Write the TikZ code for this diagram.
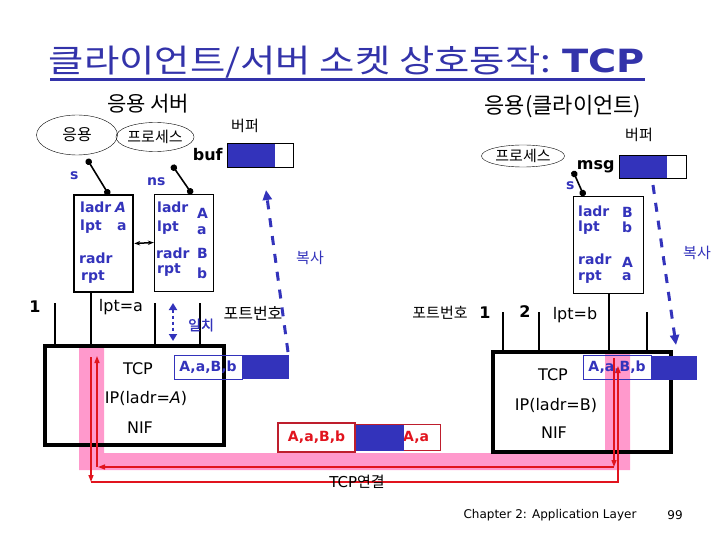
\documentclass[tikz,border=0pt]{standalone}
\usepackage{fontspec}
\setmainfont{DejaVu Sans}
\newfontfamily\kor[AutoFakeBold=1.5]{Noto Sans CJK KR}
\usepackage{tikz}
\usetikzlibrary{arrows.meta,positioning,shapes.geometric}
\usepackage{xcolor}
\definecolor{sblue}{RGB}{51,51,187}
\definecolor{tblue}{RGB}{51,51,170}
\definecolor{lpink}{RGB}{255,153,204}
\definecolor{pred}{RGB}{225,20,30}
\definecolor{dred}{RGB}{190,30,45}
\newcommand{\fs}[1]{\fontsize{#1}{#1}\selectfont}

\begin{document}
\begin{tikzpicture}[x=1pt, y=-1pt,
		ko/.style={font=\kor\fs{15}, inner sep=0},
		lbl/.style={text=sblue, font=\bfseries\fs{14}, inner sep=0, anchor=west},
		txt/.style={font=\fs{16}, inner sep=0},
		proc/.style={draw, ellipse, inner sep=0, font=\kor\fs{15}},
		sock/.style={draw, rectangle, inner sep=0, minimum width=59pt, minimum height=97pt},
		stack/.style={draw, rectangle, line width=3.5pt, inner sep=0},
		pkt/.style={draw=sblue, text=sblue, font=\bfseries\fs{14}, inner sep=0, minimum width=68pt, minimum height=24pt},
		pay/.style={fill=sblue, inner sep=0, minimum height=24pt, anchor=west},
		bufbox/.style={draw, inner sep=0, minimum width=66pt, minimum height=24pt},
		sline/.style={line width=1.6pt, {Circle[length=6.5pt]}-{Circle[length=6.5pt]}},
		copy/.style={sblue, line width=3pt, dash pattern=on 9pt off 9pt, -{Triangle[length=10pt,width=9pt]}},
		pipe/.style={pred, line width=1.3pt, -{Triangle[length=7pt,width=5pt]}},
		port/.style={line width=1.5pt}]
	\useasboundingbox (0,0) rectangle (720,540);
	
	% TCP connection band
	\fill[lpink] (79,346) -- (104,346) -- (104,453) -- (605,453) -- (605,350) -- (630,350) -- (630,470) -- (79,470) -- cycle;
	
	\node[font=\kor\fs{32}, text=tblue, inner sep=0] (ttl) at (347,62) {\scalebox{1.2}[1]{클라이언트/서버 소켓 상호동작: {\rmfamily\bfseries TCP}}};
	\draw[tblue, line width=3pt] (50,80) -- (645,80);
	
	% server side
	\node[ko, font=\kor\fs{21}] (srv) at (148,104) {응용 서버};
	\node[proc, minimum width=81pt, minimum height=40pt, font=\kor\fs{16}] (sapp) at (77,135) {응용};
	\node[proc, minimum width=76pt, minimum height=29pt] (sproc) at (155,137) {프로세스};
	\node[bufbox] (sbuf) at (260,155) {};
	\fill[sblue] (sbuf.north west) rectangle ([xshift=-18pt]sbuf.south east);
	\draw (sbuf.north west) rectangle (sbuf.south east);
	\node[ko, above=10pt of sbuf, xshift=-15pt] (sbufl) {버퍼};
	\node[font=\bfseries\fs{16}, inner sep=0, left=4pt of sbuf] (sbufn) {buf};
	
	\node[sock, line width=2.5pt] (ssk) at (103.5,243.5) {};
	\node[sock] (nsk) at (183.5,242.5) {};
	\coordinate (sp1) at (87,159);
	\coordinate (sp2) at (109,195);
	\coordinate (np1) at (172,165);
	\coordinate (np2) at (192,194);
	\draw[sline] (sp1) -- (sp2);
	\draw[sline] (np1) -- (np2);
	\node[lbl] (sl) at (70,176) {s};
	\node[lbl] (nsl) at (147,182) {ns};
	
	\node[lbl] at (80,207) {ladr};
	\node[lbl] at (115,207) {\itshape A};
	\node[lbl] at (80,227) {lpt};
	\node[lbl] at (117,227) {a};
	\node[lbl] at (79,258) {radr};
	\node[lbl] at (81,277) {rpt};
	
	\node[lbl] at (157,207) {ladr};
	\node[lbl] at (197,213) {A};
	\node[lbl] at (157,228) {lpt};
	\node[lbl] at (197,231) {a};
	\node[lbl] at (156,253) {radr};
	\node[lbl] at (197,253) {B};
	\node[lbl] at (157,270) {rpt};
	\node[lbl] at (197,273) {b};
	
	\draw[{Stealth[length=6pt]}-{Stealth[length=6pt]}, line width=1.5pt] (ssk.east) -- (nsk.west);
	
	\node[stack, minimum width=179pt, minimum height=99pt] (stk) at (134.5,395.5) {};
	\node[txt] (stcp) at (138,369) {TCP};
	\node[txt] (sip) at (146,398) {IP(ladr=\textit{A})};
	\node[txt] (snif) at (140,428) {NIF};
	\node[pkt] (spk) at (208,367) {A,a,B,b};
	\node[pay, minimum width=47pt] (spay) at (spk.east) {};
	
	\node[txt, font=\bfseries\fs{16}] (sone) at (35,307) {1};
	\node[txt] (lpta) at (121,307) {lpt=a};
	\foreach \x in {55,155,200}
		\draw[port] (\x,303) -- (\x,346);
	\draw[line width=2pt] (91,292) -- (91,346);
	
	\coordinate (m1) at (173,303);
	\coordinate (m2) at (173,341);
	\draw[sblue, line width=2.5pt, dash pattern=on 3pt off 3pt, {Triangle[length=7pt,width=8pt]}-{Triangle[length=7pt,width=8pt]}] (m1) -- (m2);
	\node[ko, text=sblue, font=\kor\bfseries\fs{14}] (match) at (201,325) {일치};
	\node[ko, font=\kor\fs{16}] (sportl) at (253,313) {포트번호};
	
	\coordinate (sc1) at (288,352);
	\coordinate (sc2) at (266,190);
	\draw[copy] (sc1) -- (sc2);
	\node[ko, text=sblue] (scopy) at (310,258) {복사};
	
	% client side
	\node[ko, font=\kor\fs{22}] (cli) at (563,107) {응용(클라이언트)};
	\node[ko] (cbufl) at (639,135) {버퍼};
	\node[proc, minimum width=83pt, minimum height=22pt] (cproc) at (523,156) {프로세스};
	\node[bufbox, minimum width=67pt, minimum height=23pt] (cbuf) at (652.5,166.5) {};
	\fill[sblue] (cbuf.north west) rectangle ([xshift=-19pt]cbuf.south east);
	\draw (cbuf.north west) rectangle (cbuf.south east);
	\node[font=\bfseries\fs{16}, inner sep=0, left=4pt of cbuf] (cbufn) {msg};
	
	\node[sock, minimum width=70pt] (csk) at (608,244.5) {};
	\coordinate (cp1) at (573,171);
	\coordinate (cp2) at (584,196);
	\draw[sline] (cp1) -- (cp2);
	\node[lbl] (cl) at (566,186) {s};
	
	\node[lbl] at (578,211) {ladr};
	\node[lbl] at (622,212) {B};
	\node[lbl] at (578,228) {lpt};
	\node[lbl] at (622,227) {b};
	\node[lbl] at (578,259) {radr};
	\node[lbl] at (622,262) {A};
	\node[lbl] at (578,277) {rpt};
	\node[lbl] at (622,277) {a};
	
	\node[stack, minimum width=178pt, minimum height=100pt] (ctk) at (582,402) {};
	\node[txt] (ctcp) at (553,375) {TCP};
	\node[txt] (cip) at (556,405) {IP(ladr=B)};
	\node[txt] (cnif) at (554,433) {NIF};
	\node[pkt] (cpk) at (617,367.5) {A,a,B,b};
	\node[pay, minimum width=46pt] (cpay) at (cpk.east) {};
	
	\node[ko] (cportl) at (440,313) {포트번호};
	\node[txt, font=\bfseries\fs{16}] (cone) at (485,313) {1};
	\node[txt, font=\bfseries\fs{16}] (ctwo) at (525,312) {2};
	\node[txt] (lptb) at (575,315) {lpt=b};
	\foreach \x in {503,539,647}
		\draw[port] (\x,312) -- (\x,352);
	\draw[line width=2pt] (609,293) -- (609,352);
	
	\coordinate (cc1) at (653,185);
	\coordinate (cc2) at (676,345);
	\draw[copy] (cc1) -- (cc2);
	\node[ko, text=sblue] (ccopy) at (697,253) {복사};
	
	% segment on the wire
	\node[pkt, draw=dred, text=pred, line width=1.8pt, minimum width=77pt, minimum height=29pt] (mpk) at (316.5,437.5) {A,a,B,b};
	\node[draw=dred, inner sep=0, minimum width=84pt, minimum height=26pt, anchor=west] (mpk2) at (mpk.east) {};
	\node[text=pred, font=\bfseries\fs{14}, inner sep=0, anchor=east] (mtxt) at ([xshift=-11pt]mpk2.east) {A,a};
	\node[pay, minimum width=48pt, minimum height=26pt] (mpay) at (mpk.east) {};
	
	% pipes
	\coordinate (s1) at (91,357);
	\coordinate (s2) at (91,482);
	\coordinate (s3) at (97,467);
	\coordinate (s4) at (97,356);
	\coordinate (c1) at (614,358);
	\coordinate (c2) at (614,467);
	\coordinate (c3) at (618,482);
	\coordinate (c4) at (618,366);
	\draw[pipe] (s1) -- (s2);
	\draw[pipe] (s2) -- (c3) -- (c4);
	\draw[pipe] (c1) -- (c2);
	\draw[pipe] (c2) -- ([xshift=1pt]s3);
	\draw[pipe] (s3) -- (s4);
	\node[font=\fs{15}, inner sep=0] (conn) at (357,482) {TCP{\kor 연결}};
	
	\node[font=\fs{12}, inner sep=0] (foot) at (550,515) {Chapter 2: Application Layer};
	\node[font=\fs{12}, inner sep=0] (page) at (675,515) {99};
\end{tikzpicture}
\end{document}
